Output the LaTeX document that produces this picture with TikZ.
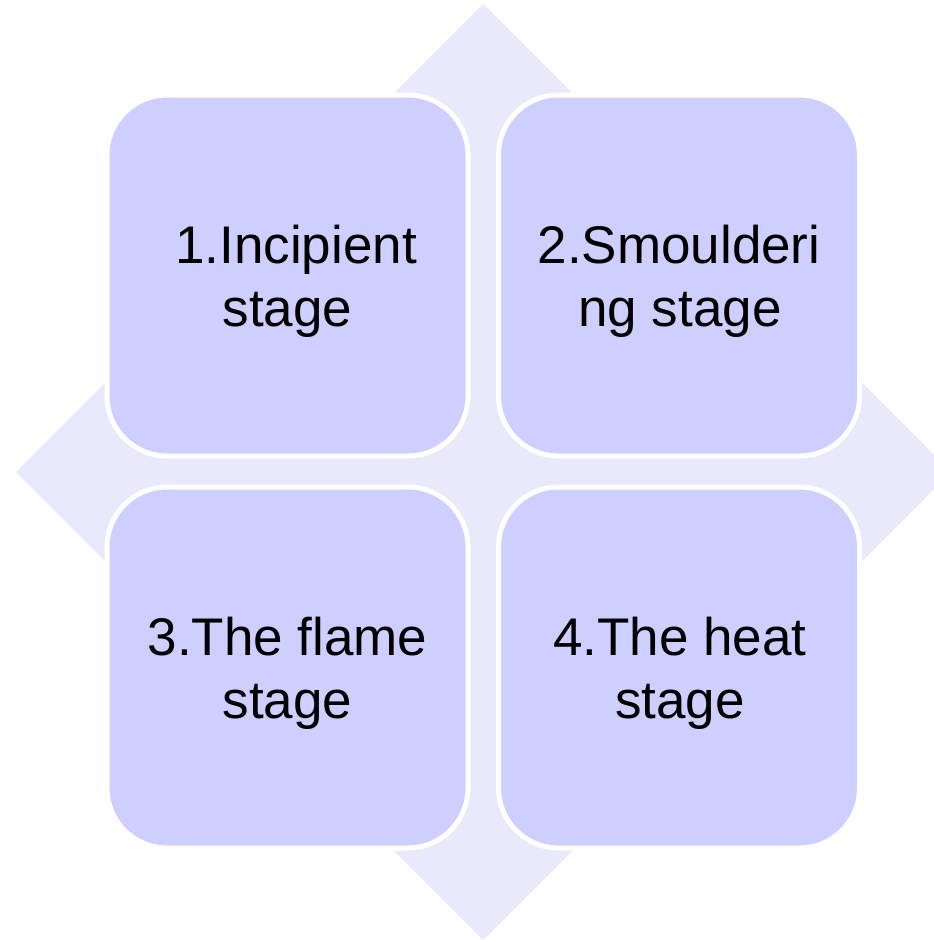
\documentclass[tikz,border=0pt]{standalone}
\usepackage{fontspec}
\setmainfont{Liberation Sans}
\definecolor{diamondfill}{RGB}{233,233,251}
\definecolor{boxfill}{RGB}{206,206,255}
\tikzset{
  stagebox/.style={draw=white, line width=5pt, fill=boxfill, rounded corners=60pt,
    minimum width=361pt, minimum height=361pt, inner sep=0pt},
  stagetext/.style={anchor=base, inner sep=0pt, text=black,
    font=\fontsize{53}{63}\selectfont}
}
\begin{document}
\begin{tikzpicture}[x=1pt,y=-1pt]
\useasboundingbox (0,0) rectangle (934,940);
\begin{scope}
  \clip (0,0) rectangle (934,940);
  \fill[diamondfill] (483,4) -- (951,472) -- (483,940) -- (16,472) -- cycle;
\end{scope}
\node[stagebox] (b1) at (287.5,275.5) {};
\node[stagebox] (b2) at (679,275.5) {};
\node[stagebox] (b3) at (287.5,667.5) {};
\node[stagebox] (b4) at (679,667.5) {};
\node[stagetext] (t1a) at (296,263) {1.Incipient};
\node[stagetext] (t1b) at (287.5,326) {stage};
\node[stagetext] (t2a) at (679,263) {2.Smoulderi};
\node[stagetext] (t2b) at (680,326) {ng stage};
\node[stagetext] (t3a) at (287.5,655) {3.The flame};
\node[stagetext] (t3b) at (287.5,718) {stage};
\node[stagetext] (t4a) at (680,655) {4.The heat};
\node[stagetext] (t4b) at (680,718) {stage};
\end{tikzpicture}
\end{document}
